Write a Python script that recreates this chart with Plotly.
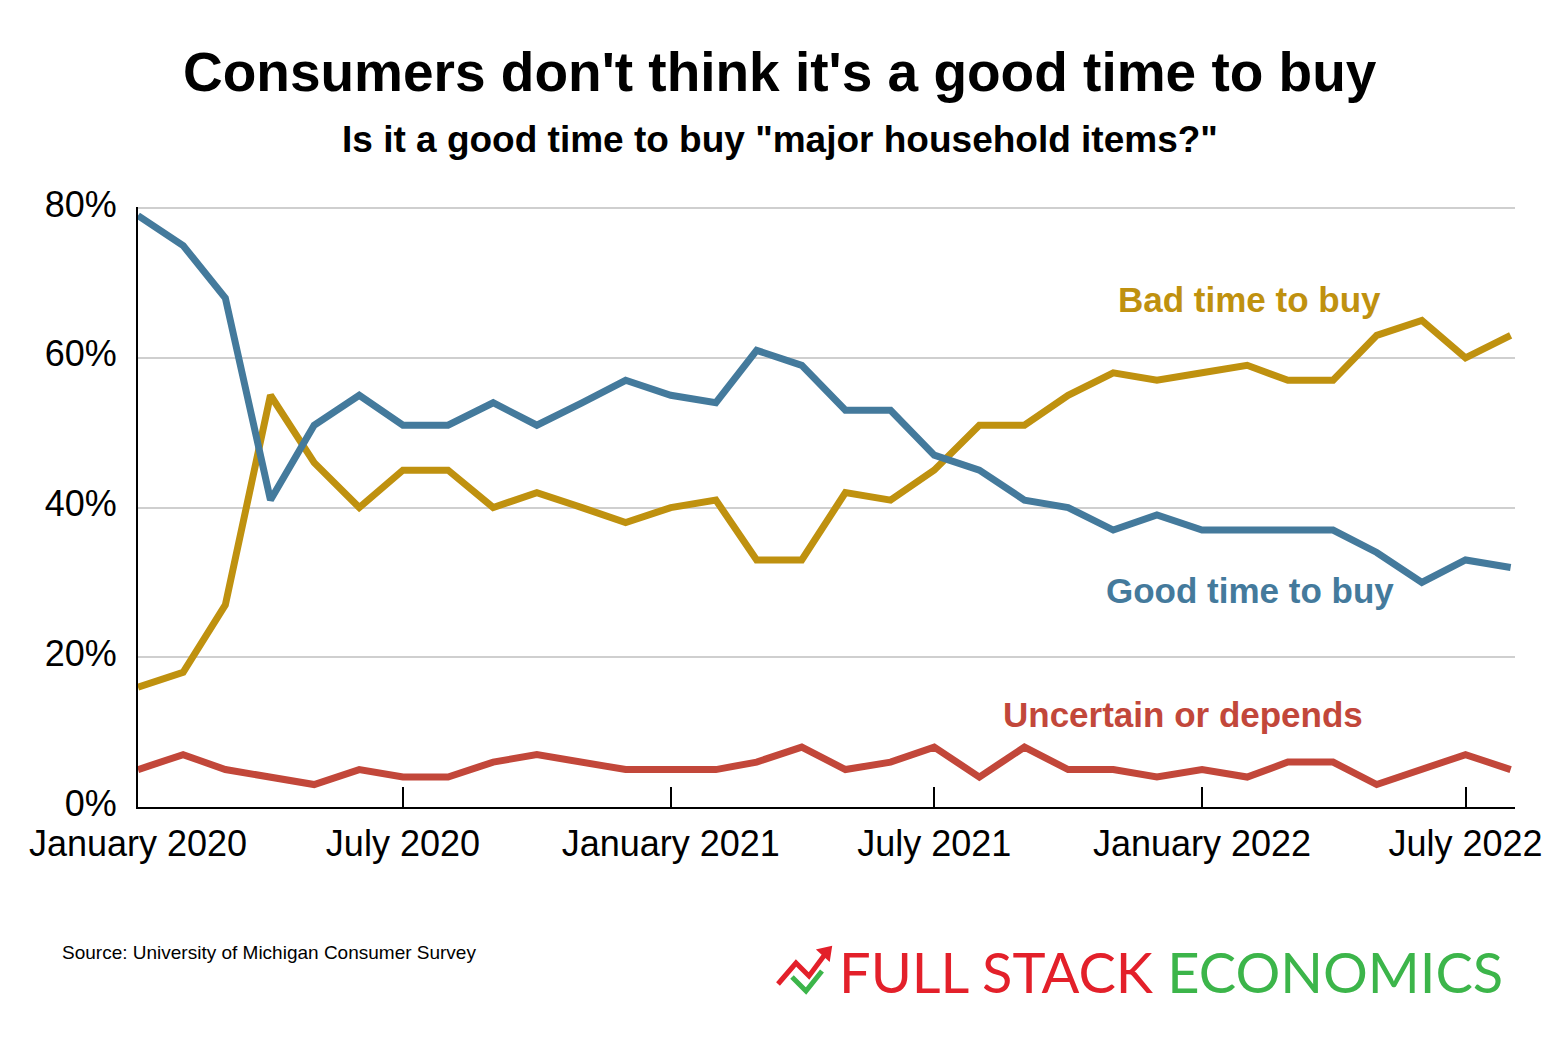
import plotly.graph_objects as go

months = [f"{y}-{m:02d}-01" for y in (2020, 2021, 2022) for m in range(1, 13)][:32]

good_time = [79, 75, 68, 41, 51, 55, 51, 51, 54, 51, 54, 57, 55, 54, 61, 59,
             53, 53, 47, 45, 41, 40, 37, 39, 37, 37, 37, 37, 34, 30, 33, 32]
bad_time = [16, 18, 27, 55, 46, 40, 45, 45, 40, 42, 40, 38, 40, 41, 33, 33,
            42, 41, 45, 51, 51, 55, 58, 57, 58, 59, 57, 57, 63, 65, 60, 63]
uncertain = [5, 7, 5, 4, 3, 5, 4, 4, 6, 7, 6, 5, 5, 5, 6, 8,
             5, 6, 8, 4, 8, 5, 5, 4, 5, 4, 6, 6, 3, 5, 7, 5]

tick_vals = ["2020-01-01", "2020-07-01", "2021-01-01", "2021-07-01", "2022-01-01", "2022-07-01"]
tick_text = ["January 2020", "July 2020", "January 2021", "July 2021", "January 2022", "July 2022"]
y_ticks = [0, 20, 40, 60, 80]
y_text = ["0%", "20%", "40%", "60%", "80%"]

BLUE = "#447a9c"
GOLD = "#bf910f"
RED = "#c2473a"

W, H = 1560, 1040
OFF = 8  # page body margin
L, R, T, B = 138, 1515, 207, 807  # target plot area in page pixels


def px(x):
    return (x - L) / (R - L)


def py(y):
    return (B - y) / (B - T)


fig = go.Figure()
for vals, col in [(uncertain, RED), (bad_time, GOLD), (good_time, BLUE)]:
    fig.add_trace(go.Scatter(x=months, y=vals, mode="lines",
                             line=dict(color=col, width=7), hoverinfo="skip"))

fig.update_layout(
    width=W, height=H,
    margin=dict(l=L - OFF, r=W - (R - OFF), t=T - OFF, b=H - (B - OFF)),
    paper_bgcolor="white", plot_bgcolor="white",
    showlegend=False,
    font=dict(family="Liberation Sans, Arial, sans-serif", color="black"),
)
fig.update_xaxes(
    range=["2020-01-01", "2022-08-04"],
    tickvals=tick_vals, ticktext=tick_text,
    tickfont=dict(size=36, color="black"),
    ticks="inside", ticklen=20, tickcolor="black", tickwidth=1.5,
    showline=True, linecolor="black", linewidth=2,
    showgrid=False, zeroline=False, ticklabelstandoff=4,
)
fig.update_yaxes(
    range=[0, 80.15],
    tickvals=y_ticks, ticktext=y_text,
    tickfont=dict(size=36, color="black"),
    showline=True, linecolor="black", linewidth=2,
    showgrid=True, gridcolor="#cfcfcf", gridwidth=1.5,
    zeroline=False, ticks="", ticklabelstandoff=12, ticklabelshift=-4,
)

annotations = [
    dict(x=px(780), y=py(72), xref="paper", yref="paper", xanchor="center", yanchor="middle",
         text="<b>Consumers don't think it's a good time to buy</b>",
         font=dict(size=55, color="black", family="Liberation Sans, Arial, sans-serif"), showarrow=False),
    dict(x=px(780), y=py(139), xref="paper", yref="paper", xanchor="center", yanchor="middle",
         text="<b>Is it a good time to buy \"major household items?\"</b>",
         font=dict(size=37, color="black", family="Liberation Sans, Arial, sans-serif"), showarrow=False),
    dict(x=px(1249), y=py(299), xref="paper", yref="paper", xanchor="center", yanchor="middle",
         text="<b>Bad time to buy</b>", font=dict(size=35, color=GOLD), showarrow=False),
    dict(x=px(1250), y=py(590), xref="paper", yref="paper", xanchor="center", yanchor="middle",
         text="<b>Good time to buy</b>", font=dict(size=35, color=BLUE), showarrow=False),
    dict(x=px(1183), y=py(714), xref="paper", yref="paper", xanchor="center", yanchor="middle",
         text="<b>Uncertain or depends</b>", font=dict(size=35, color=RED), showarrow=False),
    dict(x=px(60), y=py(952), xref="paper", yref="paper", xanchor="left", yanchor="middle",
         text="Source: University of Michigan Consumer Survey",
         font=dict(size=19, color="black"), showarrow=False),
    dict(x=px(1505), y=py(971), xref="paper", yref="paper", xanchor="right", yanchor="middle",
         text="<span style='color:#e3202a'>FULL STACK</span> <span style='color:#3cb54a'>ECONOMICS</span>",
         font=dict(size=56, family="Lato, sans-serif"), showarrow=False),
]
fig.update_layout(annotations=annotations)


def path(points):
    return "M " + " L ".join(f"{px(x)},{py(y)}" for x, y in points)


shapes = [
    dict(type="path", xref="paper", yref="paper",
         path=path([(778, 984), (796, 963), (809, 976), (826, 953)]),
         line=dict(color="#e3202a", width=5)),
    dict(type="path", xref="paper", yref="paper",
         path=path([(818, 950), (831, 947), (829, 960)]) + " Z",
         fillcolor="#e3202a", line=dict(color="#e3202a", width=2)),
    dict(type="path", xref="paper", yref="paper",
         path=path([(792, 977), (806, 991), (822, 971)]),
         line=dict(color="#3cb54a", width=5)),
]
fig.update_layout(shapes=shapes)

fig.write_html("out.html")
